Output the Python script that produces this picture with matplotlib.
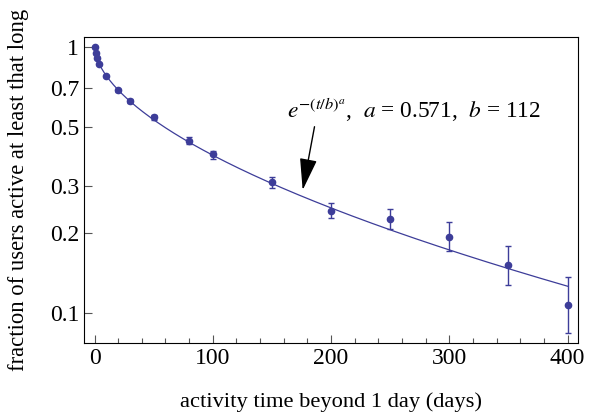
import numpy as np
import matplotlib.pyplot as plt
from matplotlib.ticker import FixedLocator, FixedFormatter, MultipleLocator

plt.rcParams['font.family'] = ['Liberation Serif', 'DejaVu Serif']
plt.rcParams['mathtext.fontset'] = 'stix'

# data
t = [0, 1, 2, 4, 10, 20, 30, 50, 80, 100, 150, 200, 250, 300, 350, 400]
frac = [1.0, 0.944, 0.91, 0.861, 0.776, 0.686, 0.627, 0.543, 0.444, 0.396,
        0.310, 0.2425, 0.2258, 0.1938, 0.1514, 0.1074]
err_hi = [1.0, 0.95, 0.917, 0.868, 0.784, 0.696, 0.636, 0.554, 0.4596, 0.406,
          0.3236, 0.2587, 0.2468, 0.2195, 0.1788, 0.1365]
err_lo = [1.0, 0.938, 0.903, 0.854, 0.768, 0.674, 0.617, 0.531, 0.4315, 0.380,
          0.294, 0.2272, 0.2077, 0.1717, 0.1274, 0.0842]
a_fit, b_fit = 0.571, 112
yticks = [0.1, 0.2, 0.3, 0.5, 0.7, 1]
ytick_labels = ['0.1', '0.2', '0.3', '0.5', '0.7', '1']

col = '#3d3d99'

fig = plt.figure(figsize=(5.97, 4.16), dpi=100)
ax = fig.add_axes([0.1407, 0.1755, 0.968 - 0.1407, 0.911 - 0.1755])

tt = np.linspace(0, 400, 400)
ax.plot(tt, np.exp(-(tt / b_fit) ** a_fit), color=col, lw=0.9)

frac_a = np.array(frac)
yerr = [frac_a - np.array(err_lo), np.array(err_hi) - frac_a]
ax.errorbar(t, frac, yerr=yerr, fmt='o', color=col, ms=4.5, elinewidth=1.0,
            capsize=2.3, capthick=1.0)

ax.set_yscale('log')
ax.set_xlim(-8.9, 408.7)
ax.set_ylim(0.0774, 1.087)
ax.yaxis.set_major_locator(FixedLocator(yticks))
ax.yaxis.set_major_formatter(FixedFormatter(ytick_labels))
ax.yaxis.set_minor_locator(FixedLocator([]))
ax.xaxis.set_major_locator(MultipleLocator(100))
ax.xaxis.set_minor_locator(MultipleLocator(20))
ax.tick_params(which='both', direction='in', top=False, right=False,
               labelsize=17, color='#555555')
ax.tick_params(which='major', length=6, width=0.8)
ax.tick_params(which='minor', length=3.5, width=0.8)

ax.set_xlabel('activity time beyond 1 day (days)', fontsize=16.2)
ax.set_ylabel('fraction of users active at least that long', fontsize=16.3)
ax.xaxis.set_label_coords(0.501, -0.16)
ax.yaxis.set_label_coords(-0.112, 0.5)

# fit formula and arrow
ax.text(162.7, 0.54, r'$e^{-(t/b)^{a}}$,  $a$ = 0.571,  $b$ = 112',
        fontsize=16.8, ha='left', va='baseline')
ax.annotate('', xy=(176, 0.29), xytext=(186, 0.501),
            arrowprops=dict(arrowstyle='-|>,head_length=1.1,head_width=0.3',
                            color='black', lw=1.0, mutation_scale=18,
                            shrinkA=0, shrinkB=0))

fig.savefig('out.png', dpi=100)
